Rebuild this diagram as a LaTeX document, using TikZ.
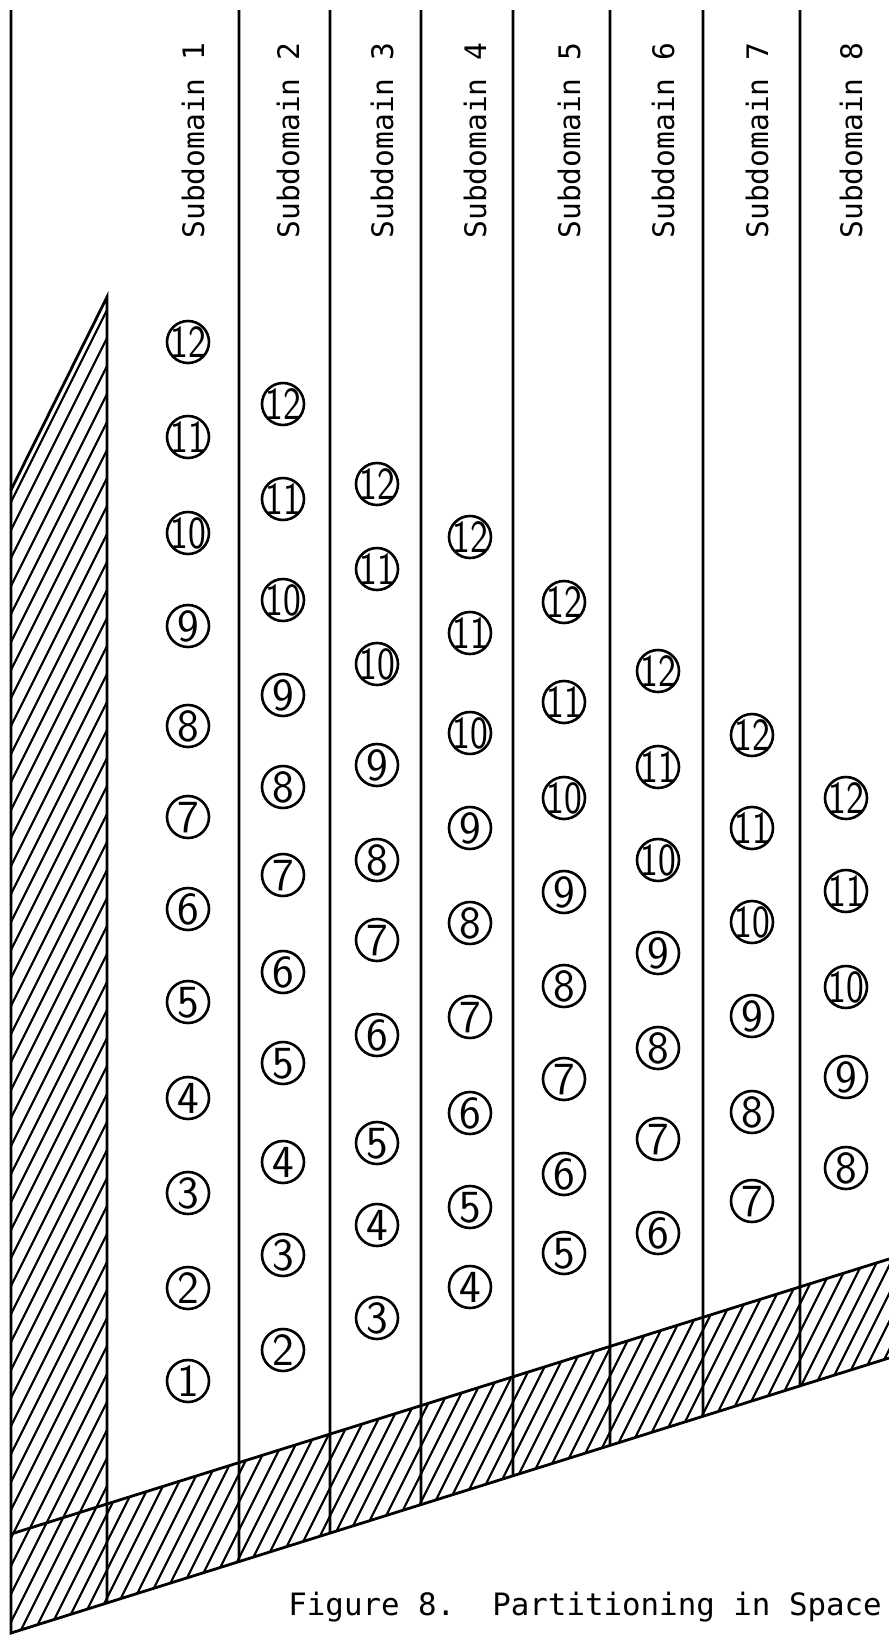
\documentclass[tikz,border=0pt]{standalone}
\usepackage{fontspec}
\usetikzlibrary{calc}
\newfontfamily\monofont{DejaVu Sans Mono}
\newcommand{\cnum}[1]{\smash{\makebox[0pt]{\raisebox{-.5\height}{%
  \ifnum#1>9 \scalebox{0.82}[1]{#1}\else #1\fi}}}}

\begin{document}
\begin{tikzpicture}[x=0.5pt, y=-0.5pt,
    wall/.style={line width=1.4pt},
    hatch/.style={line width=1.05pt},
    num/.style={circle, draw, line width=1.3pt, minimum size=21pt, inner sep=0pt,
      font=\sffamily\fontsize{23}{23}\selectfont},
    sdlabel/.style={rotate=90, anchor=base west, inner sep=0pt,
      font=\monofont\fontsize{14.8}{14.8}\selectfont},
    caption/.style={anchor=base west, inner sep=0pt,
      font=\monofont\fontsize{15.4}{15.4}\selectfont}
  ]
  \useasboundingbox (0,0) rectangle (889,1635);

  \coordinate (tl) at (11,10);
  \coordinate (sl) at (11,490);   % foot of the slanted top
  \coordinate (st) at (107,297);  % tip of the hatched strip
  \coordinate (ul) at (11,1534);
  \coordinate (ur) at (889,1259);
  \coordinate (bl) at (11,1633);
  \coordinate (br) at (889,1358);
  \coordinate (us) at ($(ul)!{96/878}!(ur)$);
  \coordinate (bs) at ($(bl)!{96/878}!(br)$);

  % hatching of strip and band
  \begin{scope}
    \clip (sl) -- (st) -- (us) -- (ur) -- (br) -- (bl) -- cycle;
    \foreach \s in {-700,-686,...,725}
      \draw[hatch] (\s,1700) -- ++(900,-1800);
  \end{scope}

  % outline
  \draw[wall] (tl) -- (bl) -- (br);
  \draw[wall] (ul) -- (ur);
  \draw[wall] (sl) -- (st) -- (bs);

  % dividers
  \foreach \xd in {239,330,421,513,610,703,800}
    \draw[wall] (\xd,10) -- ($(bl)!{(\xd-11)/878}!(br)$);

  % labels and circled numbers
  \foreach \c/\xc/\ylist in {
      1/188/{1381,1288,1193,1098,1002,909,817,726,626,533,437,342},
      2/283/{1350,1255,1162,1063,972,875,787,695,600,499,404},
      3/377/{1318,1225,1143,1035,940,860,765,664,569,484},
      4/470/{1287,1207,1113,1017,923,828,733,633,537},
      5/564/{1253,1174,1079,986,892,798,702,602},
      6/658/{1233,1139,1048,953,860,767,671},
      7/752/{1201,1112,1016,922,828,735},
      8/846/{1168,1077,987,891,798}}{
    \node[sdlabel] (sd\c) at (\xc+16,239) {Subdomain \c};
    \foreach \yy [count=\n from \c] in \ylist
      \node[num] (c\c-\n) at (\xc,\yy) {\cnum{\n}};
  }

  \node[caption] (cap) at (288,1615) {Figure 8.\ \ Partitioning in Space};
\end{tikzpicture}
\end{document}
